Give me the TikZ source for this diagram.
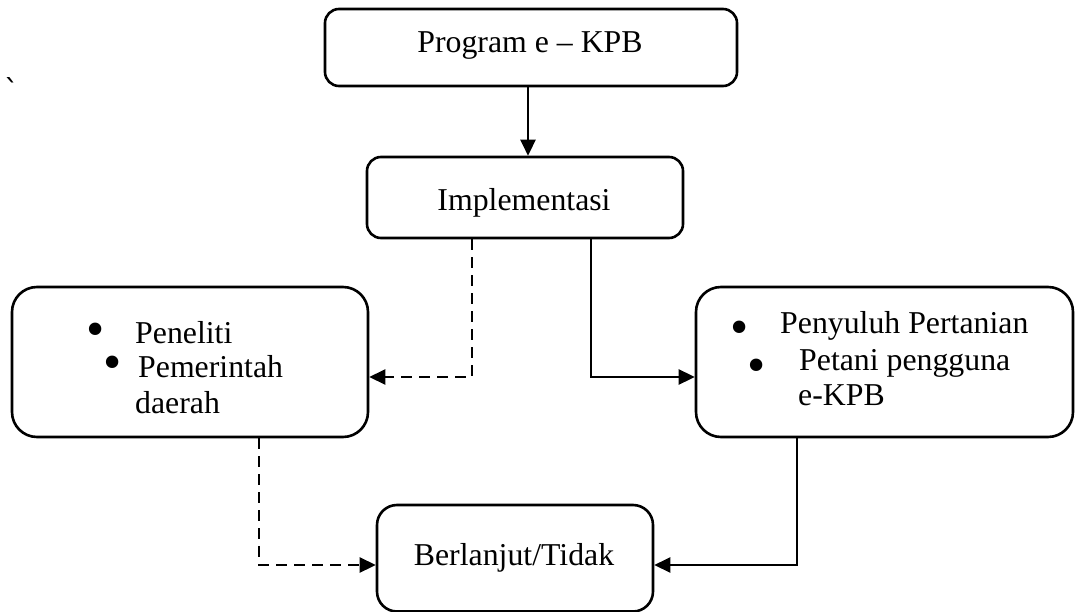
\documentclass[tikz,border=0pt]{standalone}
\usepackage{fontspec}
\setmainfont{Liberation Serif}
\newfontfamily\gravefont{DejaVu Sans}
\usetikzlibrary{arrows.meta}
\begin{document}
\begin{tikzpicture}[x=1pt,y=1pt,
  box/.style={draw, line width=2.6pt, rounded corners=#1, inner sep=0pt},
  lbl/.style={inner sep=0pt, font=\fontsize{31.8}{38}\selectfont},
  bul/.style={inner sep=0pt, font=\fontsize{52}{60}\selectfont},
  arr/.style={line width=2.6pt, -{Triangle[length=16pt,width=15pt]}},
  dsh/.style={arr, dash pattern=on 11pt off 7pt}]
\useasboundingbox (0,0) rectangle (1075,611);
% boxes
\node[box=14pt, minimum width=412pt, minimum height=77pt] (prog) at (531,563.5) {};
\node[box=14pt, minimum width=316pt, minimum height=81pt] (impl) at (525,413.5) {};
\node[box=25pt, minimum width=356pt, minimum height=150pt] (left) at (190,249) {};
\node[box=25pt, minimum width=377pt, minimum height=150pt] (right) at (884.5,249) {};
\node[box=20pt, minimum width=276pt, minimum height=106.5pt] (end) at (515,52.75) {};
% texts
\node[lbl, anchor=base] (tprog) at (530,558) {Program e – KPB};
\node[lbl, anchor=base] (timpl) at (524,400.3) {Implementasi};
\node[lbl, anchor=base] (tend) at (514,46) {Berlanjut/Tidak};
\node[bul] (lb1) at (96,276) {\textbullet};
\node[lbl, anchor=base west] (lt1) at (135,268) {Peneliti};
\node[bul] (lb2) at (113,243) {\textbullet};
\node[lbl, anchor=base west] (lt2) at (138,234) {Pemerintah};
\node[lbl, anchor=base west] (lt3) at (135,198) {daerah};
\node[bul] (rb1) at (740,278) {\textbullet};
\node[lbl, anchor=base west] (rt1) at (780,278) {Penyuluh Pertanian};
\node[bul] (rb2) at (757,240) {\textbullet};
\node[lbl, anchor=base west] (rt2) at (799,241) {Petani pengguna};
\node[lbl, anchor=base west] (rt3) at (798,206) {e-KPB};
\node[inner sep=0pt, font=\gravefont\fontsize{30}{36}\selectfont, anchor=north] (grave) at (12,534) {ˋ};
% connectors
\coordinate (c1) at (528,0);
\draw[arr] (prog.south -| c1) -- (impl.north -| c1);
\coordinate (c2) at (472,234);
\draw[dsh] (impl.south -| c2) |- (left.east |- c2);
\coordinate (c3) at (591,234);
\draw[arr] (impl.south -| c3) |- (right.west |- c3);
\coordinate (c4) at (259,46);
\draw[dsh] (left.south -| c4) |- (end.west |- c4);
\coordinate (c5) at (797,46);
\draw[arr] (right.south -| c5) |- (end.east |- c5);
\end{tikzpicture}
\end{document}
